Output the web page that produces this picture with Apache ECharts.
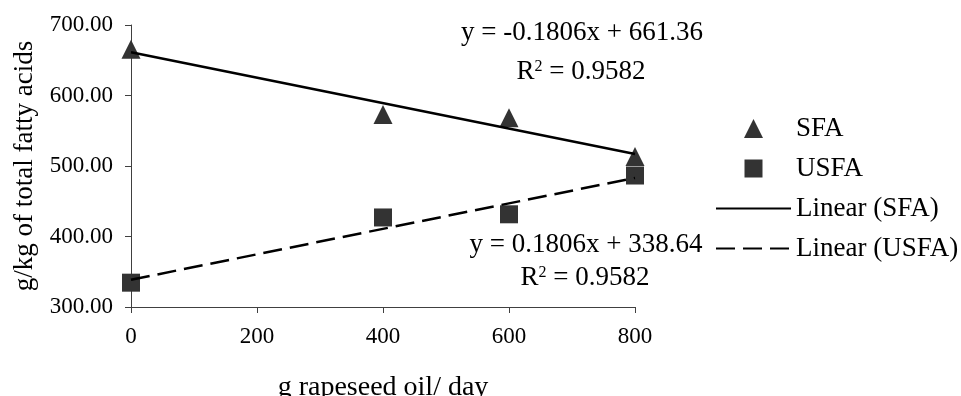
<!DOCTYPE html>
<html>
<head>
<meta charset="utf-8">
<script src="https://cdn.jsdelivr.net/npm/echarts@6/dist/echarts.min.js"></script>
<style>
  html, body { margin: 0; padding: 0; background: #fff; }
  #chart { width: 961px; height: 396px; }
</style>
</head>
<body>
<div id="chart"></div>
<script>
// Daily rapeseed oil intake (g/day) and fatty acid shares (g/kg of total fatty acids)
const oilDoses = [0, 400, 600, 800];
const sfaValues = [665.5, 573, 568.5, 513.5];
const usfaValues = [334.5, 427, 431.5, 486.5];

// Linear trend coefficients: [slope, intercept], and R squared
const sfaTrend = [-0.1806, 661.36];
const usfaTrend = [0.1806, 338.64];
const sfaR2 = 0.9582;
const usfaR2 = 0.9582;

const xRange = [0, 800];
const yRange = [300, 700];

const FONT = '"Liberation Serif", "Times New Roman", serif';

function trendPoints(coef) {
  return xRange.map(x => [x, coef[1] + coef[0] * x]);
}
function equationText(coef) {
  return 'y = ' + coef[0].toFixed(4) + 'x + ' + coef[1].toFixed(2);
}
function r2Text(r2) {
  return 'R{sup|2} = ' + r2.toFixed(4);
}

// Legend icons: marker centred inside a 75x19 box (the leading moves fix the box)
const LEGEND_TRIANGLE = 'path://M0,0M75,19M28,19L37.5,0L47,19Z';
const LEGEND_SQUARE = 'path://M0,0M75,19M28.5,0.5L46.5,0.5L46.5,18.5L28.5,18.5Z';
const NO_MARKER = { color: 'rgba(0,0,0,0)', borderColor: 'rgba(0,0,0,0)', borderWidth: 0 };

const chart = echarts.init(document.getElementById('chart'), null, { renderer: 'canvas' });

const eqStyle = { fontFamily: FONT, fontSize: 27, fill: '#000', align: 'center', verticalAlign: 'middle' };
const r2Rich = { sup: { fontFamily: FONT, fontSize: 16, verticalAlign: 'top', fill: '#000' } };

chart.setOption({
  animation: false,
  backgroundColor: '#fff',
  textStyle: { fontFamily: FONT },
  grid: { left: 131, right: 326, top: 25, bottom: 89, containLabel: false, outerBoundsMode: 'none' },
  xAxis: {
    type: 'value',
    min: xRange[0], max: xRange[1], interval: 200,
    name: 'g rapeseed oil/ day',
    nameLocation: 'middle',
    nameGap: 67,
    nameTextStyle: { fontFamily: FONT, fontSize: 28, color: '#000' },
    axisLine: { show: true, lineStyle: { color: '#404040', width: 1 } },
    axisTick: { show: true, inside: false, length: 6, lineStyle: { color: '#404040' } },
    axisLabel: { margin: 18, fontFamily: FONT, fontSize: 23, color: '#000' },
    splitLine: { show: false }
  },
  yAxis: {
    type: 'value',
    min: yRange[0], max: yRange[1], interval: 100,
    name: 'g/kg of total fatty acids',
    nameLocation: 'middle',
    nameGap: 92,
    nameTextStyle: { fontFamily: FONT, fontSize: 27, color: '#000' },
    axisLine: { show: true, lineStyle: { color: '#404040', width: 1 } },
    axisTick: { show: true, inside: false, length: 6, lineStyle: { color: '#404040' } },
    axisLabel: { margin: 18, fontFamily: FONT, fontSize: 23, color: '#000', formatter: v => v.toFixed(2) },
    splitLine: { show: false }
  },
  legend: {
    orient: 'vertical',
    left: 715,
    top: 115,
    padding: 0,
    itemWidth: 75,
    itemHeight: 19,
    itemGap: 13,
    symbolKeepAspect: true,
    textStyle: { fontFamily: FONT, fontSize: 27, color: '#000' },
    data: [
      { name: 'SFA', icon: LEGEND_TRIANGLE },
      { name: 'USFA', icon: LEGEND_SQUARE },
      { name: 'Linear (SFA)', itemStyle: NO_MARKER },
      { name: 'Linear (USFA)', itemStyle: NO_MARKER }
    ]
  },
  series: [
    {
      name: 'SFA',
      type: 'scatter',
      symbol: 'triangle',
      symbolSize: 19,
      itemStyle: { color: '#333', opacity: 1 },
      data: oilDoses.map((x, i) => [x, sfaValues[i]]),
      z: 3
    },
    {
      name: 'USFA',
      type: 'scatter',
      symbol: 'rect',
      symbolSize: 18,
      itemStyle: { color: '#333', opacity: 1 },
      data: oilDoses.map((x, i) => [x, usfaValues[i]]),
      z: 3
    },
    {
      name: 'Linear (SFA)',
      type: 'line',
      symbol: 'none',
      showSymbol: false,
      lineStyle: { color: '#000', width: 2.5, type: 'solid' },
      itemStyle: { color: '#000' },
      data: trendPoints(sfaTrend),
      z: 4
    },
    {
      name: 'Linear (USFA)',
      type: 'line',
      symbol: 'none',
      showSymbol: false,
      lineStyle: { color: '#000', width: 2.5, type: [19, 8] },
      itemStyle: { color: '#000' },
      data: trendPoints(usfaTrend),
      z: 4
    }
  ],
  graphic: [
    { type: 'text', x: 582, y: 33, style: Object.assign({ text: equationText(sfaTrend) }, eqStyle) },
    { type: 'text', x: 581, y: 72, style: Object.assign({ text: r2Text(sfaR2), rich: r2Rich }, eqStyle) },
    { type: 'text', x: 586, y: 245, style: Object.assign({ text: equationText(usfaTrend) }, eqStyle) },
    { type: 'text', x: 585, y: 278, style: Object.assign({ text: r2Text(usfaR2), rich: r2Rich }, eqStyle) }
  ]
});
</script>
</body>
</html>
